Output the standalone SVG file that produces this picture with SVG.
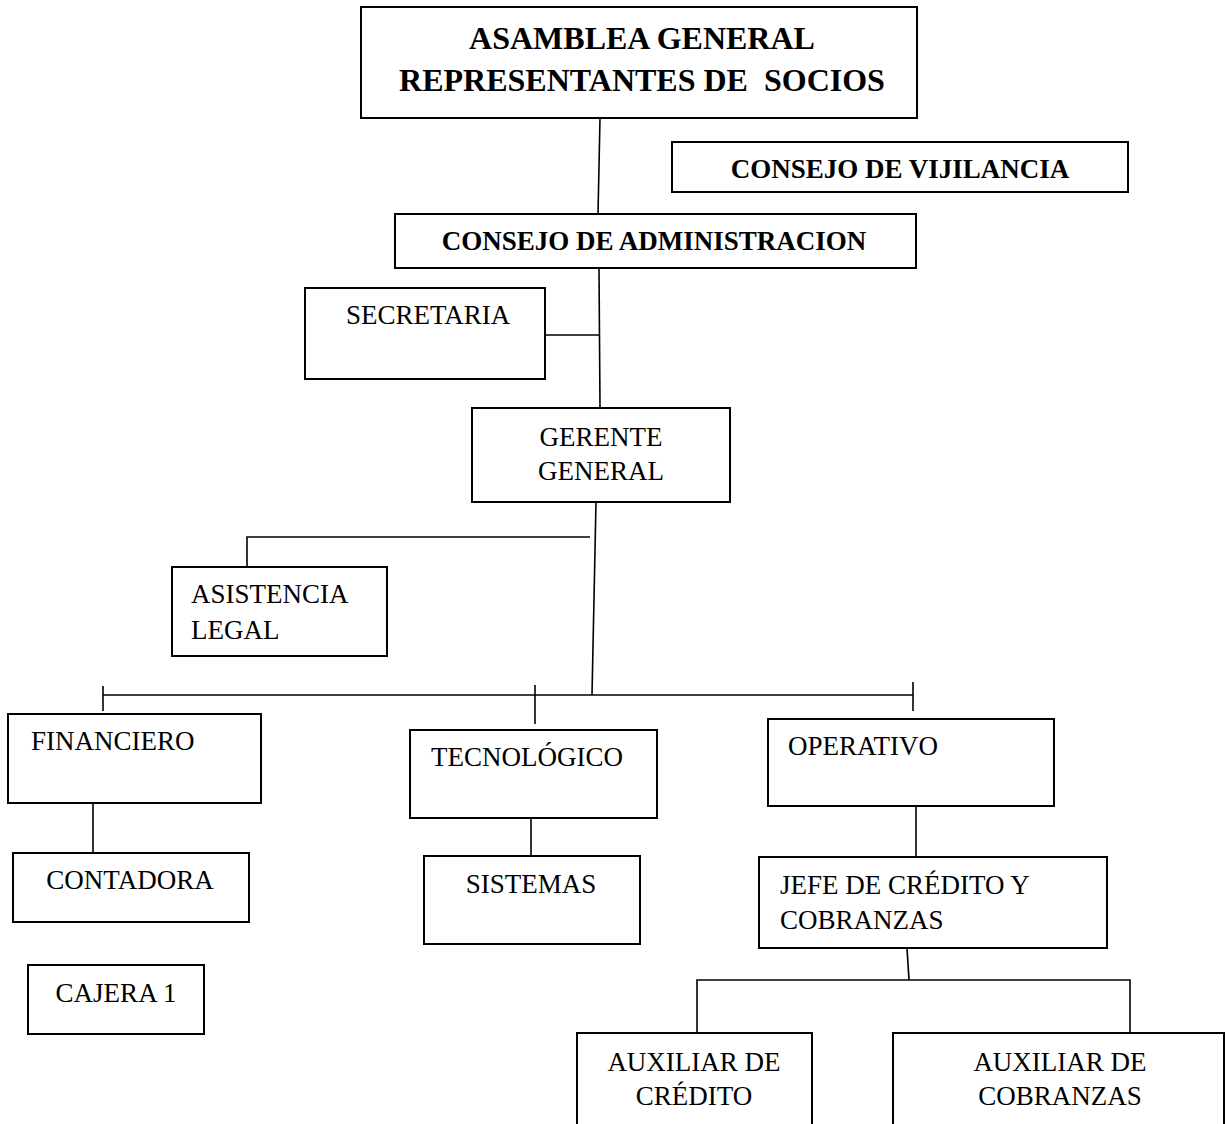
<svg xmlns="http://www.w3.org/2000/svg" width="1225" height="1124" viewBox="0 0 1225 1124">
  <style>
    .box { fill: #ffffff; stroke: #000000; stroke-width: 2; }
    .link { fill: none; stroke: #000000; stroke-width: 1.6; }
    .t { font-family: "Liberation Serif", "Times New Roman", serif; font-size: 27px; fill: #000000; }
    .b { font-weight: bold; }
    .big { font-size: 32px; }
    .c { text-anchor: middle; }
  </style>
  <rect width="1225" height="1124" fill="#ffffff"/>

  <!-- connectors -->
  <g id="connectors">
    <line class="link" x1="600" y1="118" x2="598" y2="214"/>
    <line class="link" x1="599" y1="268" x2="600" y2="408"/>
    <line class="link" x1="545" y1="335" x2="600" y2="335"/>
    <line class="link" x1="596" y1="502" x2="592" y2="695"/>
    <polyline class="link" points="590,537 247,537 247,567"/>
    <line class="link" x1="103" y1="695" x2="913" y2="695"/>
    <line class="link" x1="103" y1="686" x2="103" y2="711"/>
    <line class="link" x1="535" y1="685" x2="535" y2="724"/>
    <line class="link" x1="913" y1="682" x2="913" y2="711"/>
    <line class="link" x1="93" y1="803" x2="93" y2="853"/>
    <line class="link" x1="531" y1="818" x2="531" y2="856"/>
    <line class="link" x1="916" y1="806" x2="916" y2="857"/>
    <line class="link" x1="907" y1="948" x2="909" y2="980"/>
    <polyline class="link" points="697,1033 697,980 1130,980 1130,1033"/>
  </g>

  <g id="asamblea">
    <rect class="box" x="361" y="7" width="556" height="111"/>
    <text class="t b big c" x="642" y="49">ASAMBLEA GENERAL</text>
    <text class="t b big c" x="642" y="91" xml:space="preserve">REPRESENTANTES DE  SOCIOS</text>
  </g>

  <g id="vigilancia">
    <rect class="box" x="672" y="142" width="456" height="50"/>
    <text class="t b c" x="900" y="178">CONSEJO DE VIJILANCIA</text>
  </g>

  <g id="administracion">
    <rect class="box" x="395" y="214" width="521" height="54"/>
    <text class="t b c" x="654" y="250">CONSEJO DE ADMINISTRACION</text>
  </g>

  <g id="secretaria">
    <rect class="box" x="305" y="288" width="240" height="91"/>
    <text class="t" x="346" y="324">SECRETARIA</text>
  </g>

  <g id="gerente">
    <rect class="box" x="472" y="408" width="258" height="94"/>
    <text class="t c" x="601" y="446">GERENTE</text>
    <text class="t c" x="601" y="480">GENERAL</text>
  </g>

  <g id="asistencia">
    <rect class="box" x="172" y="567" width="215" height="89"/>
    <text class="t" x="191" y="603">ASISTENCIA</text>
    <text class="t" x="191" y="639">LEGAL</text>
  </g>

  <g id="financiero">
    <rect class="box" x="8" y="714" width="253" height="89"/>
    <text class="t" x="31" y="750">FINANCIERO</text>
  </g>

  <g id="contadora">
    <rect class="box" x="13" y="853" width="236" height="69"/>
    <text class="t c" x="130" y="889">CONTADORA</text>
  </g>

  <g id="cajera">
    <rect class="box" x="28" y="965" width="176" height="69"/>
    <text class="t c" x="116" y="1002">CAJERA 1</text>
  </g>

  <g id="tecnologico">
    <rect class="box" x="410" y="730" width="247" height="88"/>
    <text class="t" x="431" y="766">TECNOLÓGICO</text>
  </g>

  <g id="sistemas">
    <rect class="box" x="424" y="856" width="216" height="88"/>
    <text class="t c" x="531" y="893">SISTEMAS</text>
  </g>

  <g id="operativo">
    <rect class="box" x="768" y="719" width="286" height="87"/>
    <text class="t" x="788" y="755">OPERATIVO</text>
  </g>

  <g id="jefe-credito">
    <rect class="box" x="759" y="857" width="348" height="91"/>
    <text class="t" x="780" y="894">JEFE DE CRÉDITO Y</text>
    <text class="t" x="780" y="929">COBRANZAS</text>
  </g>

  <g id="aux-credito">
    <rect class="box" x="577" y="1033" width="235" height="110"/>
    <text class="t c" x="694" y="1071">AUXILIAR DE</text>
    <text class="t c" x="694" y="1105">CRÉDITO</text>
  </g>

  <g id="aux-cobranzas">
    <rect class="box" x="893" y="1033" width="331" height="110"/>
    <text class="t c" x="1060" y="1071">AUXILIAR DE</text>
    <text class="t c" x="1060" y="1105">COBRANZAS</text>
  </g>
</svg>
